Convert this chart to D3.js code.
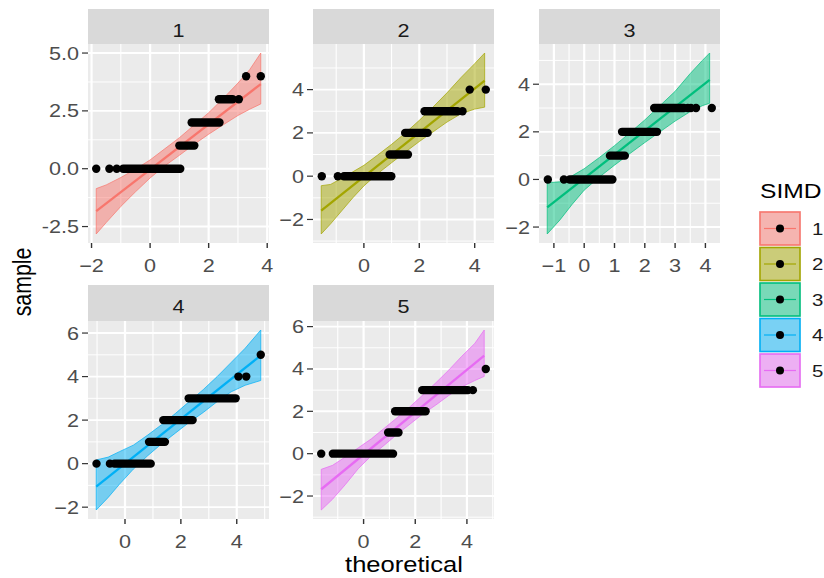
<!DOCTYPE html>
<html>
<head>
<meta charset="utf-8">
<script src="https://cdn.jsdelivr.net/npm/d3@7"></script>
<style>
  body { margin: 0; background: #ffffff; }
  text { font-family: "Liberation Sans", Arial, sans-serif; }
</style>
</head>
<body>
<svg id="chart" width="824" height="578"></svg>
<script>
// SIMD groups and their hue colours
const groups = ["1", "2", "3", "4", "5"];
const colors = ["#F8766D", "#A3A500", "#00BF7D", "#00B0F6", "#E76BF3"];

// Q-Q points, stored as runs of overplotted points: [sample, theoretical from, theoretical to]
const runs1 = [[0,-1.84,-1.84],[0,-1.39,-1.39],[0,-1.14,-1.14],[0,-0.92,1.03],[1,1.0,1.51],[2,1.42,2.37],[3,2.35,2.82],[3,3.03,3.03],[4,3.28,3.28],[4,3.78,3.78]];
const runs2 = [[0,-1.52,-1.52],[0,-0.94,-0.94],[0,-0.72,0.99],[1,0.93,1.59],[2,1.49,2.3],[3,2.19,3.38],[3,3.56,3.56],[4,3.82,3.82],[4,4.4,4.4]];
const runs3 = [[0,-1.2,-1.2],[0,-0.67,-0.67],[0,-0.48,0.93],[1,0.85,1.34],[2,1.25,2.4],[3,2.31,3.29],[3,3.42,3.42],[3,3.52,3.52],[3,3.69,3.69],[3,4.21,4.21]];
const runs4 = [[0,-1.02,-1.02],[0,-0.54,-0.54],[0,-0.38,0.92],[1,0.86,1.43],[2,1.37,2.42],[3,2.28,3.96],[4,4.06,4.06],[4,4.34,4.34],[5,4.86,4.86]];
const runs5 = [[0,-1.64,-1.64],[0,-1.19,1.14],[1,0.95,1.35],[2,1.22,2.4],[3,2.27,4.04],[3,4.23,4.23],[4,4.73,4.73]];

// Confidence bands: [theoretical, lower, upper]
const band1 = [[-1.84,-2.82,-0.86],[-1.5,-2.33,-0.7],[-1.0,-1.63,-0.38],[-0.5,-1.0,-0.02],[0.0,-0.4,0.38],[0.5,0.12,0.86],[1.0,0.58,1.34],[1.5,1.05,1.88],[2.0,1.49,2.42],[2.5,1.9,3.04],[3.0,2.3,3.7],[3.4,2.57,4.28],[3.78,2.8,5.0]];
const band2 = [[-1.54,-2.67,-0.44],[-1.2,-2.2,-0.38],[-0.8,-1.6,-0.1],[-0.4,-1.0,0.2],[0.0,-0.45,0.5],[0.5,0.12,0.98],[1.0,0.62,1.47],[1.5,1.12,2.0],[2.0,1.6,2.58],[2.5,2.05,3.2],[3.0,2.5,3.85],[3.5,2.88,4.55],[4.0,3.1,5.2],[4.36,3.19,5.69]];
const band3 = [[-1.22,-2.29,-0.14],[-0.8,-1.7,-0.1],[-0.4,-1.05,0.15],[0.0,-0.45,0.45],[0.5,0.1,0.92],[1.0,0.6,1.42],[1.5,1.08,1.95],[2.0,1.55,2.5],[2.5,2.0,3.1],[3.0,2.45,3.7],[3.5,2.85,4.45],[3.9,3.1,5.0],[4.14,3.2,5.31]];
const band4 = [[-1.03,-2.13,0.17],[-0.6,-1.55,0.3],[-0.2,-0.95,0.55],[0.3,-0.25,0.85],[0.8,0.35,1.3],[1.3,0.9,1.78],[1.8,1.4,2.3],[2.3,1.9,2.85],[2.8,2.35,3.4],[3.3,2.85,4.0],[3.8,3.3,4.65],[4.3,3.6,5.3],[4.86,3.82,6.14]];
const band5 = [[-1.64,-2.66,-0.74],[-1.2,-2.15,-0.55],[-0.7,-1.45,-0.15],[-0.2,-0.7,0.28],[0.3,-0.1,0.7],[0.8,0.4,1.2],[1.3,0.92,1.7],[1.8,1.4,2.22],[2.3,1.88,2.78],[2.8,2.3,3.35],[3.3,2.75,3.95],[3.8,3.15,4.6],[4.3,3.45,5.2],[4.67,3.65,5.84]];

// Reference lines: [theoretical, sample] at both ends
const line1 = [[-1.84,-1.83],[3.78,3.66]];
const line2 = [[-1.54,-1.59],[4.36,4.42]];
const line3 = [[-1.22,-1.17],[4.14,4.18]];
const line4 = [[-1.03,-1.06],[4.86,4.97]];
const line5 = [[-1.64,-1.68],[4.67,4.63]];

// Axis breaks and labels per facet
const xBreaks1 = [-2, 0, 2, 4];
const yBreaks1 = [-2.5, 0, 2.5, 5];
const yLabels1 = ["-2.5", "0.0", "2.5", "5.0"];
const xBreaks2 = [0, 2, 4];
const yBreaks2 = [-2, 0, 2, 4];
const xBreaks3 = [-1, 0, 1, 2, 3, 4];
const yBreaks3 = [-2, 0, 2, 4];
const xBreaks4 = [0, 2, 4];
const yBreaks4 = [-2, 0, 2, 4, 6];
const xBreaks5 = [0, 2, 4];
const yBreaks5 = [-2, 0, 2, 4, 6];

const facets = [
  { id: groups[0], color: colors[0], runs: runs1, band: band1, line: line1, xb: xBreaks1, yb: yBreaks1, yl: yLabels1, col: 0, row: 0 },
  { id: groups[1], color: colors[1], runs: runs2, band: band2, line: line2, xb: xBreaks2, yb: yBreaks2, col: 1, row: 0 },
  { id: groups[2], color: colors[2], runs: runs3, band: band3, line: line3, xb: xBreaks3, yb: yBreaks3, col: 2, row: 0 },
  { id: groups[3], color: colors[3], runs: runs4, band: band4, line: line4, xb: xBreaks4, yb: yBreaks4, col: 0, row: 1 },
  { id: groups[4], color: colors[4], runs: runs5, band: band5, line: line5, xb: xBreaks5, yb: yBreaks5, col: 1, row: 1 }
];

// Page layout
const colLeft = [88, 313, 539];
const panelW = 181;
const stripTop = [9, 285];
const panelTop = [44, 321];
const panelBottom = [243, 519];
const SX = 1.2;            // horizontal stretch of the drawing's text
const tickFont = 18;
const titleFont = 21.3;

const svg = d3.select("#chart");

function label(g, x, y, str, size, anchor, fill, rot) {
  return g.append("text")
    .attr("transform", `translate(${x},${y}) scale(${SX},1)` + (rot ? ` rotate(${rot})` : ""))
    .attr("text-anchor", anchor)
    .attr("font-size", size)
    .attr("fill", fill)
    .text(str);
}

function expand(ext) {
  const pad = (ext[1] - ext[0]) * 0.05;
  return [ext[0] - pad, ext[1] + pad];
}

function minorBreaks(major, domain) {
  const step = major[1] - major[0];
  const out = [major[0] - step / 2];
  for (let i = 0; i < major.length - 1; i++) out.push((major[i] + major[i + 1]) / 2);
  out.push(major[major.length - 1] + step / 2);
  return out.filter(v => v >= domain[0] && v <= domain[1]);
}

facets.forEach(f => {
  const x0 = colLeft[f.col], x1 = x0 + panelW;
  const yT = panelTop[f.row], yB = panelBottom[f.row];

  const xs = [].concat(f.runs.map(r => r[1]), f.runs.map(r => r[2]), f.band.map(b => b[0]), f.line.map(l => l[0]));
  const ys = [].concat(f.runs.map(r => r[0]), f.band.map(b => b[1]), f.band.map(b => b[2]), f.line.map(l => l[1]));
  const xDom = expand(d3.extent(xs));
  const yDom = expand(d3.extent(ys));
  const x = d3.scaleLinear().domain(xDom).range([x0, x1]);
  const y = d3.scaleLinear().domain(yDom).range([yB, yT]);

  const g = svg.append("g");

  // strip
  g.append("rect").attr("x", x0).attr("y", stripTop[f.row])
    .attr("width", panelW).attr("height", yT - stripTop[f.row]).attr("fill", "#D9D9D9");
  label(g, (x0 + x1) / 2, stripTop[f.row] + 27.5, f.id, tickFont, "middle", "#1A1A1A");

  // panel background and grid
  g.append("rect").attr("x", x0).attr("y", yT).attr("width", panelW).attr("height", yB - yT).attr("fill", "#EBEBEB");
  const xMinor = minorBreaks(f.xb, xDom), yMinor = minorBreaks(f.yb, yDom);
  g.selectAll(null).data(xMinor).enter().append("line")
    .attr("x1", d => x(d)).attr("x2", d => x(d)).attr("y1", yT).attr("y2", yB)
    .attr("stroke", "#ffffff").attr("stroke-width", 1.1);
  g.selectAll(null).data(yMinor).enter().append("line")
    .attr("y1", d => y(d)).attr("y2", d => y(d)).attr("x1", x0).attr("x2", x1)
    .attr("stroke", "#ffffff").attr("stroke-width", 0.95);
  g.selectAll(null).data(f.xb).enter().append("line")
    .attr("x1", d => x(d)).attr("x2", d => x(d)).attr("y1", yT).attr("y2", yB)
    .attr("stroke", "#ffffff").attr("stroke-width", 2.2);
  g.selectAll(null).data(f.yb).enter().append("line")
    .attr("y1", d => y(d)).attr("y2", d => y(d)).attr("x1", x0).attr("x2", x1)
    .attr("stroke", "#ffffff").attr("stroke-width", 1.9);

  // confidence band
  const area = d3.area().x(d => x(d[0])).y0(d => y(d[1])).y1(d => y(d[2]));
  g.append("path").datum(f.band).attr("d", area)
    .attr("fill", f.color).attr("fill-opacity", 0.5)
    .attr("stroke", f.color).attr("stroke-width", 0.7);

  // reference line
  const ln = d3.line().x(d => x(d[0])).y(d => y(d[1]));
  g.append("path").datum(f.line).attr("d", ln)
    .attr("fill", "none").attr("stroke", f.color).attr("stroke-width", 2.3);

  // sample points
  f.runs.forEach(r => {
    if (r[1] === r[2]) {
      g.append("circle").attr("cx", x(r[1])).attr("cy", y(r[0])).attr("r", 4.2).attr("fill", "#000");
    } else {
      g.append("line").attr("x1", x(r[1])).attr("x2", x(r[2])).attr("y1", y(r[0])).attr("y2", y(r[0]))
        .attr("stroke", "#000").attr("stroke-width", 8.4).attr("stroke-linecap", "round");
    }
  });

  // axes
  const axisCol = "#333333", textCol = "#4D4D4D";
  g.selectAll(null).data(f.yb).enter().append("line")
    .attr("x1", x0 - 6).attr("x2", x0).attr("y1", d => y(d)).attr("y2", d => y(d))
    .attr("stroke", axisCol).attr("stroke-width", 1.2);
  f.yb.forEach((v, i) => label(g, x0 - 9, y(v) + 6.5, f.yl ? f.yl[i] : d3.format("d")(v), tickFont, "end", textCol));
  g.selectAll(null).data(f.xb).enter().append("line")
    .attr("x1", d => x(d)).attr("x2", d => x(d)).attr("y1", yB).attr("y2", yB + 5)
    .attr("stroke", axisCol).attr("stroke-width", 1.4);
  f.xb.forEach(v => label(g, x(v), yB + 29, d3.format("d")(v), tickFont, "middle", textCol));
});

// axis titles
label(svg, 404, 571.5, "theoretical", titleFont, "middle", "#000");
label(svg, 31, 282, "sample", titleFont, "middle", "#000", -90);

// legend
const leg = svg.append("g");
label(leg, 760, 198, "SIMD", 20.5, "start", "#000");
groups.forEach((gname, i) => {
  const ky = 211 + i * 35.5;
  leg.append("rect").attr("x", 759).attr("y", ky).attr("width", 42).attr("height", 35).attr("fill", "#F2F2F2");
  leg.append("rect").attr("x", 760).attr("y", ky + 1).attr("width", 40).attr("height", 33)
    .attr("fill", colors[i]).attr("fill-opacity", 0.5).attr("stroke", colors[i]).attr("stroke-width", 1.6);
  leg.append("line").attr("x1", 764).attr("x2", 796).attr("y1", ky + 17.5).attr("y2", ky + 17.5)
    .attr("stroke", colors[i]).attr("stroke-width", 1.2);
  leg.append("circle").attr("cx", 780).attr("cy", ky + 17.5).attr("r", 4).attr("fill", "#000");
  label(leg, 812, ky + 23.5, gname, 17, "start", "#1A1A1A");
});
</script>
</body>
</html>
